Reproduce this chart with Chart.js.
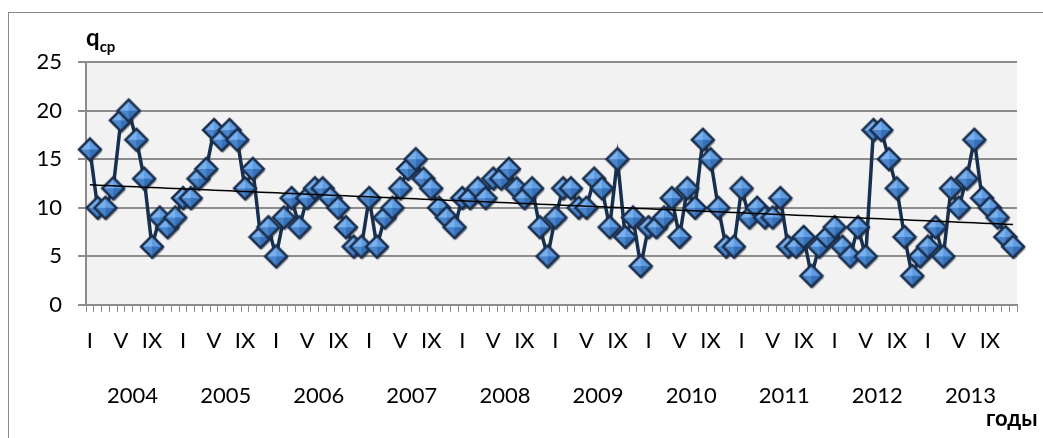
<!DOCTYPE html>
<html lang="ru">
<head>
    <meta charset="UTF-8">
    <title>q ср по месяцам 2004-2013</title>
    <script src="https://cdn.jsdelivr.net/npm/chart.js"></script>
    <style>
        body { margin: 0; background: #fff; }
        #wrap { position: relative; width: 1043px; height: 438px; }
        #frame { position: absolute; left: 8px; top: 12px; width: 1100px; height: 500px; border: 1px solid #8a8a8a; box-sizing: border-box; }
        .lbl { position: absolute; font-family: Lato, "Open Sans", sans-serif; font-weight: bold; color: #000; }
    </style>
</head>
<body>
<div id="wrap">
    <div id="frame"></div>
    <canvas id="qChart" width="1043" height="438"></canvas>
    <div class="lbl" style="left:86px; top:22px; font-size:24px;">q<span style="font-size:15px; position:relative; top:6px;">ср</span></div>
    <div class="lbl" style="left:986px; top:404px; font-size:22px;">годы</div>
</div>

<script>
    // years and month marks on the axis
    const years = ["2004", "2005", "2006", "2007", "2008", "2009", "2010", "2011", "2012", "2013"];
    const monthMarks = { 0: "I", 4: "V", 8: "IX" };

    // monthly values, one array per year
    const q2004 = [16, 10, 10, 12, 19, 20, 17, 13, 6, 9, 8, 9];
    const q2005 = [11, 11, 13, 14, 18, 17, 18, 17, 12, 14, 7, 8];
    const q2006 = [5, 9, 11, 8, 11, 12, 12, 11, 10, 8, 6, 6];
    const q2007 = [11, 6, 9, 10, 12, 14, 15, 13, 12, 10, 9, 8];
    const q2008 = [11, 11, 12, 11, 13, 13, 14, 12, 11, 12, 8, 5];
    const q2009 = [9, 12, 12, 10, 10, 13, 12, 8, 15, 7, 9, 4];
    const q2010 = [8, 8, 9, 11, 7, 12, 10, 17, 15, 10, 6, 6];
    const q2011 = [12, 9, 10, 9, 9, 11, 6, 6, 7, 3, 6, 7];
    const q2012 = [8, 6, 5, 8, 5, 18, 18, 15, 12, 7, 3, 5];
    const q2013 = [6, 8, 5, 12, 10, 13, 17, 11, 10, 9, 7, 6];

    const values = [].concat(q2004, q2005, q2006, q2007, q2008, q2009, q2010, q2011, q2012, q2013);
    const labels = values.map((v, i) => monthMarks[i % 12] || "");

    // linear trend (least squares)
    const n = values.length;
    const mx = (n - 1) / 2;
    const my = values.reduce((a, b) => a + b, 0) / n;
    let sxy = 0, sxx = 0;
    values.forEach((v, i) => { sxy += (i - mx) * (v - my); sxx += (i - mx) * (i - mx); });
    const slope = sxy / sxx;
    const trend = values.map((v, i) => my + slope * (i - mx));

    const font = { family: "Lato, 'Open Sans', sans-serif", size: 22 };
    const gridGray = "#8c8c8c";

    // bevelled diamond marker, like the Excel one
    function makeDiamond() {
        const s = 28, c = document.createElement("canvas");
        c.width = s; c.height = s;
        const g = c.getContext("2d");
        const cx = 14, cy = 14, r = 11;
        const path = (dx, dy) => {
            g.beginPath();
            g.moveTo(cx + dx, cy - r + dy);
            g.lineTo(cx + r + dx, cy + dy);
            g.lineTo(cx + dx, cy + r + dy);
            g.lineTo(cx - r + dx, cy + dy);
            g.closePath();
        };
        // shadow
        path(1.5, 2);
        g.fillStyle = "rgba(40,40,40,0.45)";
        g.fill();
        // facets
        const tri = (ax, ay, bx, by, col) => {
            g.beginPath(); g.moveTo(cx, cy); g.lineTo(ax, ay); g.lineTo(bx, by); g.closePath();
            g.fillStyle = col; g.fill();
        };
        tri(cx - r, cy, cx, cy - r, "#79b0ee");
        tri(cx, cy - r, cx + r, cy, "#5f9be0");
        tri(cx + r, cy, cx, cy + r, "#3670b8");
        tri(cx, cy + r, cx - r, cy, "#4a85cc");
        path(0, 0);
        g.lineWidth = 2.5;
        g.strokeStyle = "#1b2f4d";
        g.stroke();
        return c;
    }
    const diamond = makeDiamond();

    // plot background
    const plotBg = {
        id: "plotBg",
        beforeDraw(chart) {
            const a = chart.chartArea, c = chart.ctx;
            c.save();
            c.fillStyle = "#f2f2f2";
            c.fillRect(a.left, a.top, a.right - a.left, a.bottom - a.top);
            c.restore();
        }
    };

    new Chart(document.getElementById("qChart"), {
        type: "line",
        data: {
            labels: labels,
            datasets: [
                {
                    data: values,
                    borderColor: "#17304f",
                    borderWidth: 3.5,
                    pointStyle: diamond,
                    pointRadius: 11,
                    tension: 0,
                    order: 1
                },
                {
                    data: trend,
                    borderColor: "#000",
                    borderWidth: 1.5,
                    pointRadius: 0,
                    tension: 0,
                    order: 0
                }
            ]
        },
        options: {
            responsive: false,
            animation: false,
            events: [],
            layout: { padding: { left: 0, top: 62, right: 26, bottom: 0 } },
            plugins: { legend: { display: false }, tooltip: { enabled: false } },
            scales: {
                x: {
                    type: "category",
                    offset: true,
                    weight: 1,
                    grid: { offset: true, drawOnChartArea: false, color: gridGray, tickLength: 7, lineWidth: 1 },
                    border: { color: gridGray, width: 2 },
                    ticks: { autoSkip: false, maxRotation: 0, color: "#000", font: font, padding: 16 },
                    afterFit(s) { s.height = 58; }
                },
                x2: {
                    type: "category",
                    position: "bottom",
                    labels: years,
                    offset: true,
                    weight: 2,
                    grid: { display: false },
                    border: { display: false },
                    ticks: { maxRotation: 0, color: "#000", font: font, padding: 12 },
                    afterFit(s) { s.height = 75; }
                },
                y: {
                    min: 0,
                    max: 25,
                    ticks: { stepSize: 5, color: "#000", font: font, padding: 16 },
                    grid: { color: gridGray, lineWidth: 2, tickLength: 8 },
                    border: { color: gridGray, width: 2 },
                    afterFit(s) { s.width = 86; }
                }
            }
        },
        plugins: [plotBg]
    });
</script>
</body>
</html>
